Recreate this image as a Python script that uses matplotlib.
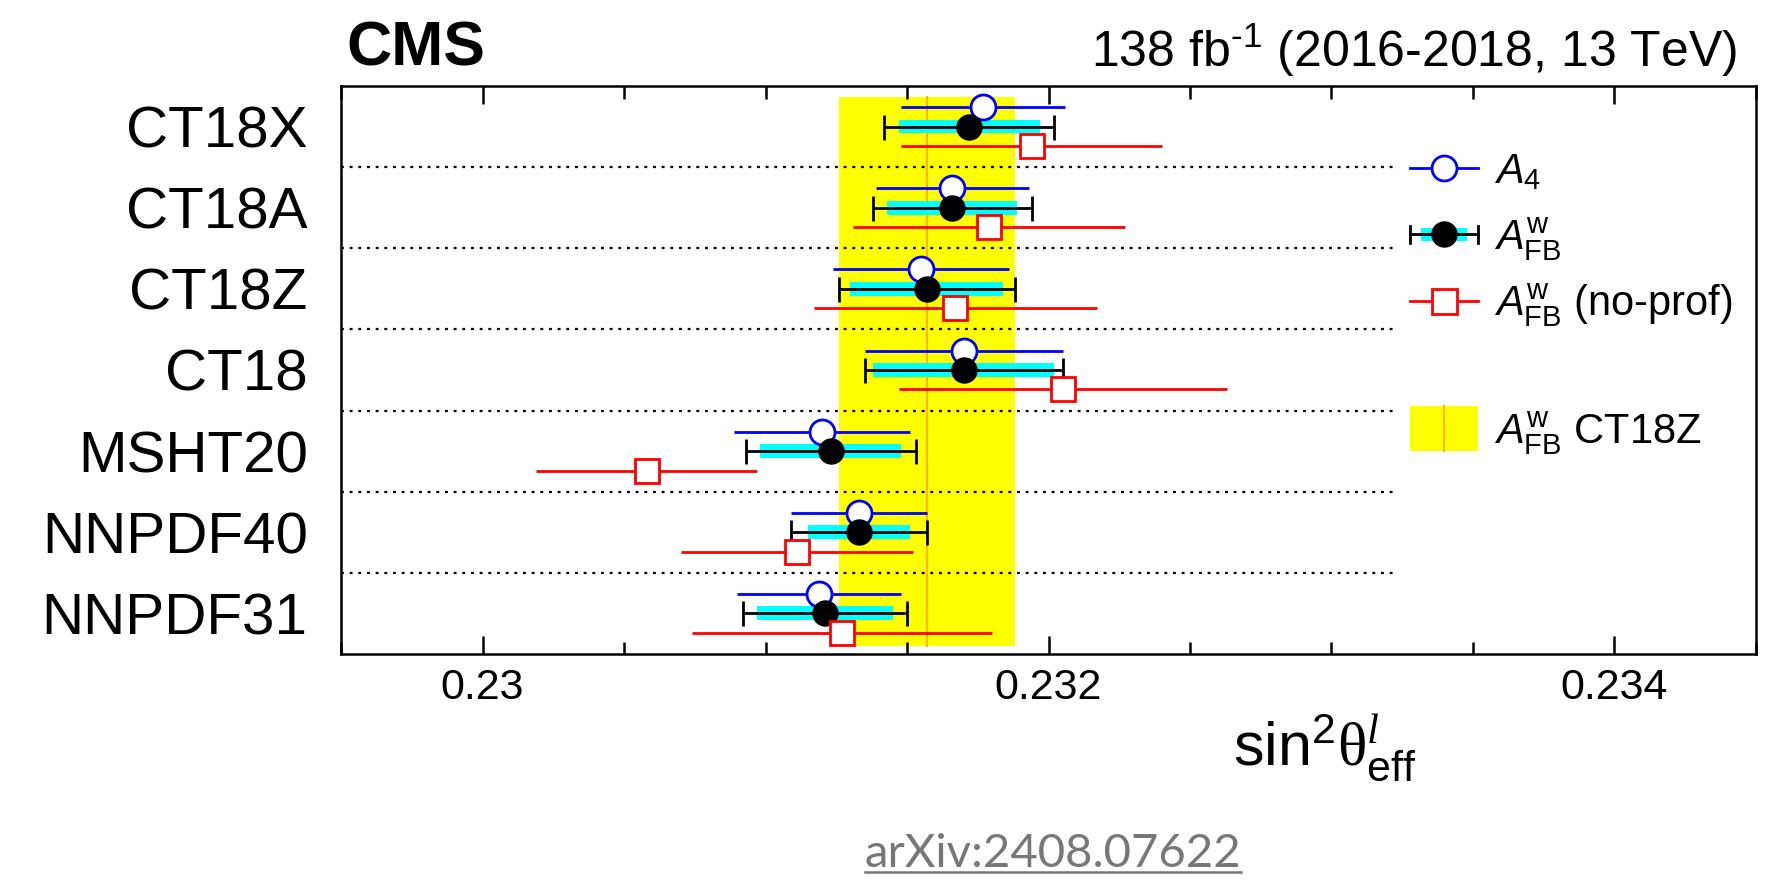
import numpy as np
import matplotlib
matplotlib.use("Agg")
import matplotlib.pyplot as plt
from matplotlib.legend_handler import HandlerBase
from matplotlib.patches import Rectangle
from matplotlib.lines import Line2D
from matplotlib.ticker import MultipleLocator

plt.rcParams['font.family'] = ['Liberation Sans', 'DejaVu Sans']
plt.rcParams['mathtext.fontset'] = 'custom'
plt.rcParams['mathtext.rm'] = 'Liberation Sans'
plt.rcParams['mathtext.it'] = 'Liberation Sans:italic'
plt.rcParams['mathtext.bf'] = 'Liberation Sans:bold'
plt.rcParams['mathtext.sf'] = 'Liberation Serif'
plt.rcParams['mathtext.cal'] = 'Liberation Serif:italic'

# PDF sets, top to bottom
pdfs = ['CT18X', 'CT18A', 'CT18Z', 'CT18', 'MSHT20', 'NNPDF40', 'NNPDF31']

# A4 fit
a4 = [0.23177, 0.23166, 0.23155, 0.23170, 0.23120, 0.23133, 0.23119]
a4_err = [0.00029, 0.00027, 0.00031, 0.00035, 0.00031, 0.00024, 0.00029]

# AFB^w fit (profiled): inner band and total error
afb = [0.23172, 0.23166, 0.23157, 0.23170, 0.23123, 0.23133, 0.23121]
afb_inner = [0.00025, 0.00023, 0.00027, 0.00032, 0.00025, 0.00018, 0.00024]
afb_tot = [0.00030, 0.00028, 0.00031, 0.00035, 0.00030, 0.00024, 0.00029]

# AFB^w without profiling
noprof = [0.23194, 0.23179, 0.23167, 0.23205, 0.23058, 0.23111, 0.23127]
noprof_err = [0.00046, 0.00048, 0.00050, 0.00058, 0.00039, 0.00041, 0.00053]

# reference band: AFB^w CT18Z
ref_idx = pdfs.index('CT18Z')

xticks = [0.230, 0.232, 0.234]
xticklabels = ['0.23', '0.232', '0.234']

n = len(pdfs)
yc = n - 0.5 - np.arange(n)
dy = 0.24
MS = 18


class EntryHandler(HandlerBase):
    # draws legend samples centred on the cap height of the label
    def create_artists(self, legend, orig_handle, xdescent, ydescent,
                       width, height, fontsize, trans):
        x0 = -xdescent
        ym = 0.36 * fontsize
        kind = orig_handle.get_label()
        arts = []
        if kind == 'afb':
            arts.append(Rectangle((x0 + 0.16 * width, ym - 5), 0.68 * width, 10,
                                  facecolor='cyan', edgecolor='none', transform=trans))
            arts.append(Line2D([x0, x0 + width], [ym, ym], color='black', lw=2, transform=trans))
            for xe in (x0, x0 + width):
                arts.append(Line2D([xe, xe], [ym - 6, ym + 6], color='black', lw=2, transform=trans))
            arts.append(Line2D([x0 + width / 2], [ym], marker='o', color='black', ms=MS,
                               transform=trans))
        elif kind == 'band':
            arts.append(Rectangle((x0, ym - 16), width, 32, facecolor='yellow',
                                  edgecolor='none', transform=trans))
            arts.append(Line2D([x0 + width / 2] * 2, [ym - 16, ym + 16], color='#ffb400', lw=1.5,
                               transform=trans))
        else:
            c = orig_handle.get_color()
            arts.append(Line2D([x0, x0 + width], [ym, ym], color=c, lw=2, transform=trans))
            arts.append(Line2D([x0 + width / 2], [ym], marker=orig_handle.get_marker(), mfc='white',
                               mec=c, mew=2, ms=MS, transform=trans))
        return arts


fig = plt.figure(figsize=(17.68, 8.94), dpi=100)
ax = fig.add_axes([0.1929, 0.2685, 0.8003, 0.6353])

# yellow reference band with central line
ref_lo = afb[ref_idx] - afb_tot[ref_idx]
ref_hi = afb[ref_idx] + afb_tot[ref_idx]
ax.fill_betweenx([0.1, 6.87], ref_lo, ref_hi, color='yellow', lw=0, zorder=0)
ax.plot([afb[ref_idx]] * 2, [0.1, 6.87], color='#ffb400', lw=1.5, zorder=0.5)

# dotted separators between PDF rows
ax.hlines(np.arange(1, n), 0.2295, 0.23322, colors='black', lw=1.6,
          linestyles=(0, (1.3, 2.6)), zorder=1)

ax.errorbar(a4, yc + dy, xerr=a4_err, fmt='o', color='blue', mfc='white', mec='blue',
            ms=MS, mew=2, lw=2, capsize=0, zorder=3)
ax.barh(yc, 2 * np.array(afb_inner), left=np.array(afb) - np.array(afb_inner), height=0.17,
        color='cyan', lw=0, zorder=2)
ax.errorbar(afb, yc, xerr=afb_tot, fmt='o', color='black', ms=MS, lw=2,
            capsize=9, capthick=2, zorder=4)
ax.errorbar(noprof, yc - dy, xerr=noprof_err, fmt='s', color='red', mfc='white', mec='red',
            ms=MS - 1, mew=2, lw=2, capsize=0, zorder=5)

ax.set_xlim(0.2295, 0.2345)
ax.set_ylim(0, n)
ax.set_xticks(xticks)
ax.set_xticklabels(xticklabels)
ax.xaxis.set_minor_locator(MultipleLocator(0.0005))
ax.tick_params(axis='x', which='both', direction='in', top=True, width=1.8, labelsize=31, pad=10)
ax.tick_params(axis='x', which='major', length=13)
ax.tick_params(axis='x', which='minor', length=9)
ax.set_yticks(yc)
ax.set_yticklabels(pdfs)
ax.tick_params(axis='y', length=0, labelsize=42, pad=24)
for s in ax.spines.values():
    s.set_linewidth(1.8)

# legends
h_a4 = Line2D([], [], color='blue', marker='o', label='a4')
h_afb = Line2D([], [], color='black', label='afb')
h_np = Line2D([], [], color='red', marker='s', label='np')
h_band = Line2D([], [], color='yellow', label='band')
common = dict(handler_map={Line2D: EntryHandler()}, loc='upper left', frameon=False,
              fontsize=30, handlelength=1.63, handleheight=1.6, handletextpad=0.38,
              labelspacing=0.3, borderpad=0, borderaxespad=0)
fig.legend([h_a4, h_afb, h_np],
           [r'$A_{4}$', r'$A_{\mathrm{FB}}^{\mathrm{w}}$', r'$A_{\mathrm{FB}}^{\mathrm{w}}$ (no-prof)'],
           bbox_to_anchor=(1410 / 1768, 1 - 143 / 894), **common)
fig.legend([h_band], [r'$A_{\mathrm{FB}}^{\mathrm{w}}$ CT18Z'],
           bbox_to_anchor=(1410 / 1768, 1 - 403 / 894), **common)

# header and axis title
fig.text(346 / 1768, 1 - 66 / 894, 'CMS', fontsize=45, fontweight='bold', va='baseline')
fig.text(1737 / 1768, 1 - 67 / 894, r'138 fb$^{\text{-1}}$ (2016-2018, 13 TeV)', fontsize=36,
         ha='right', va='baseline')
fig.text(1233 / 1768, 1 - 765 / 894, r'$\mathrm{sin}^{2}\mathsf{\theta}^{\mathcal{l}}_{\mathrm{eff}}$',
         fontsize=44, va='baseline')

arx = fig.text(1053 / 1768, 1 - 867 / 894, 'arXiv:2408.07622', fontsize=34, color='#777777',
               ha='center', va='baseline', family=['Lato', 'DejaVu Sans'])
fig.canvas.draw()
bb = arx.get_window_extent().transformed(fig.transFigure.inverted())
fig.add_artist(Line2D([bb.x0, bb.x1], [1 - 872 / 894] * 2, color='#777777', lw=1.8,
                      transform=fig.transFigure))

fig.savefig('out.png', dpi=100)
